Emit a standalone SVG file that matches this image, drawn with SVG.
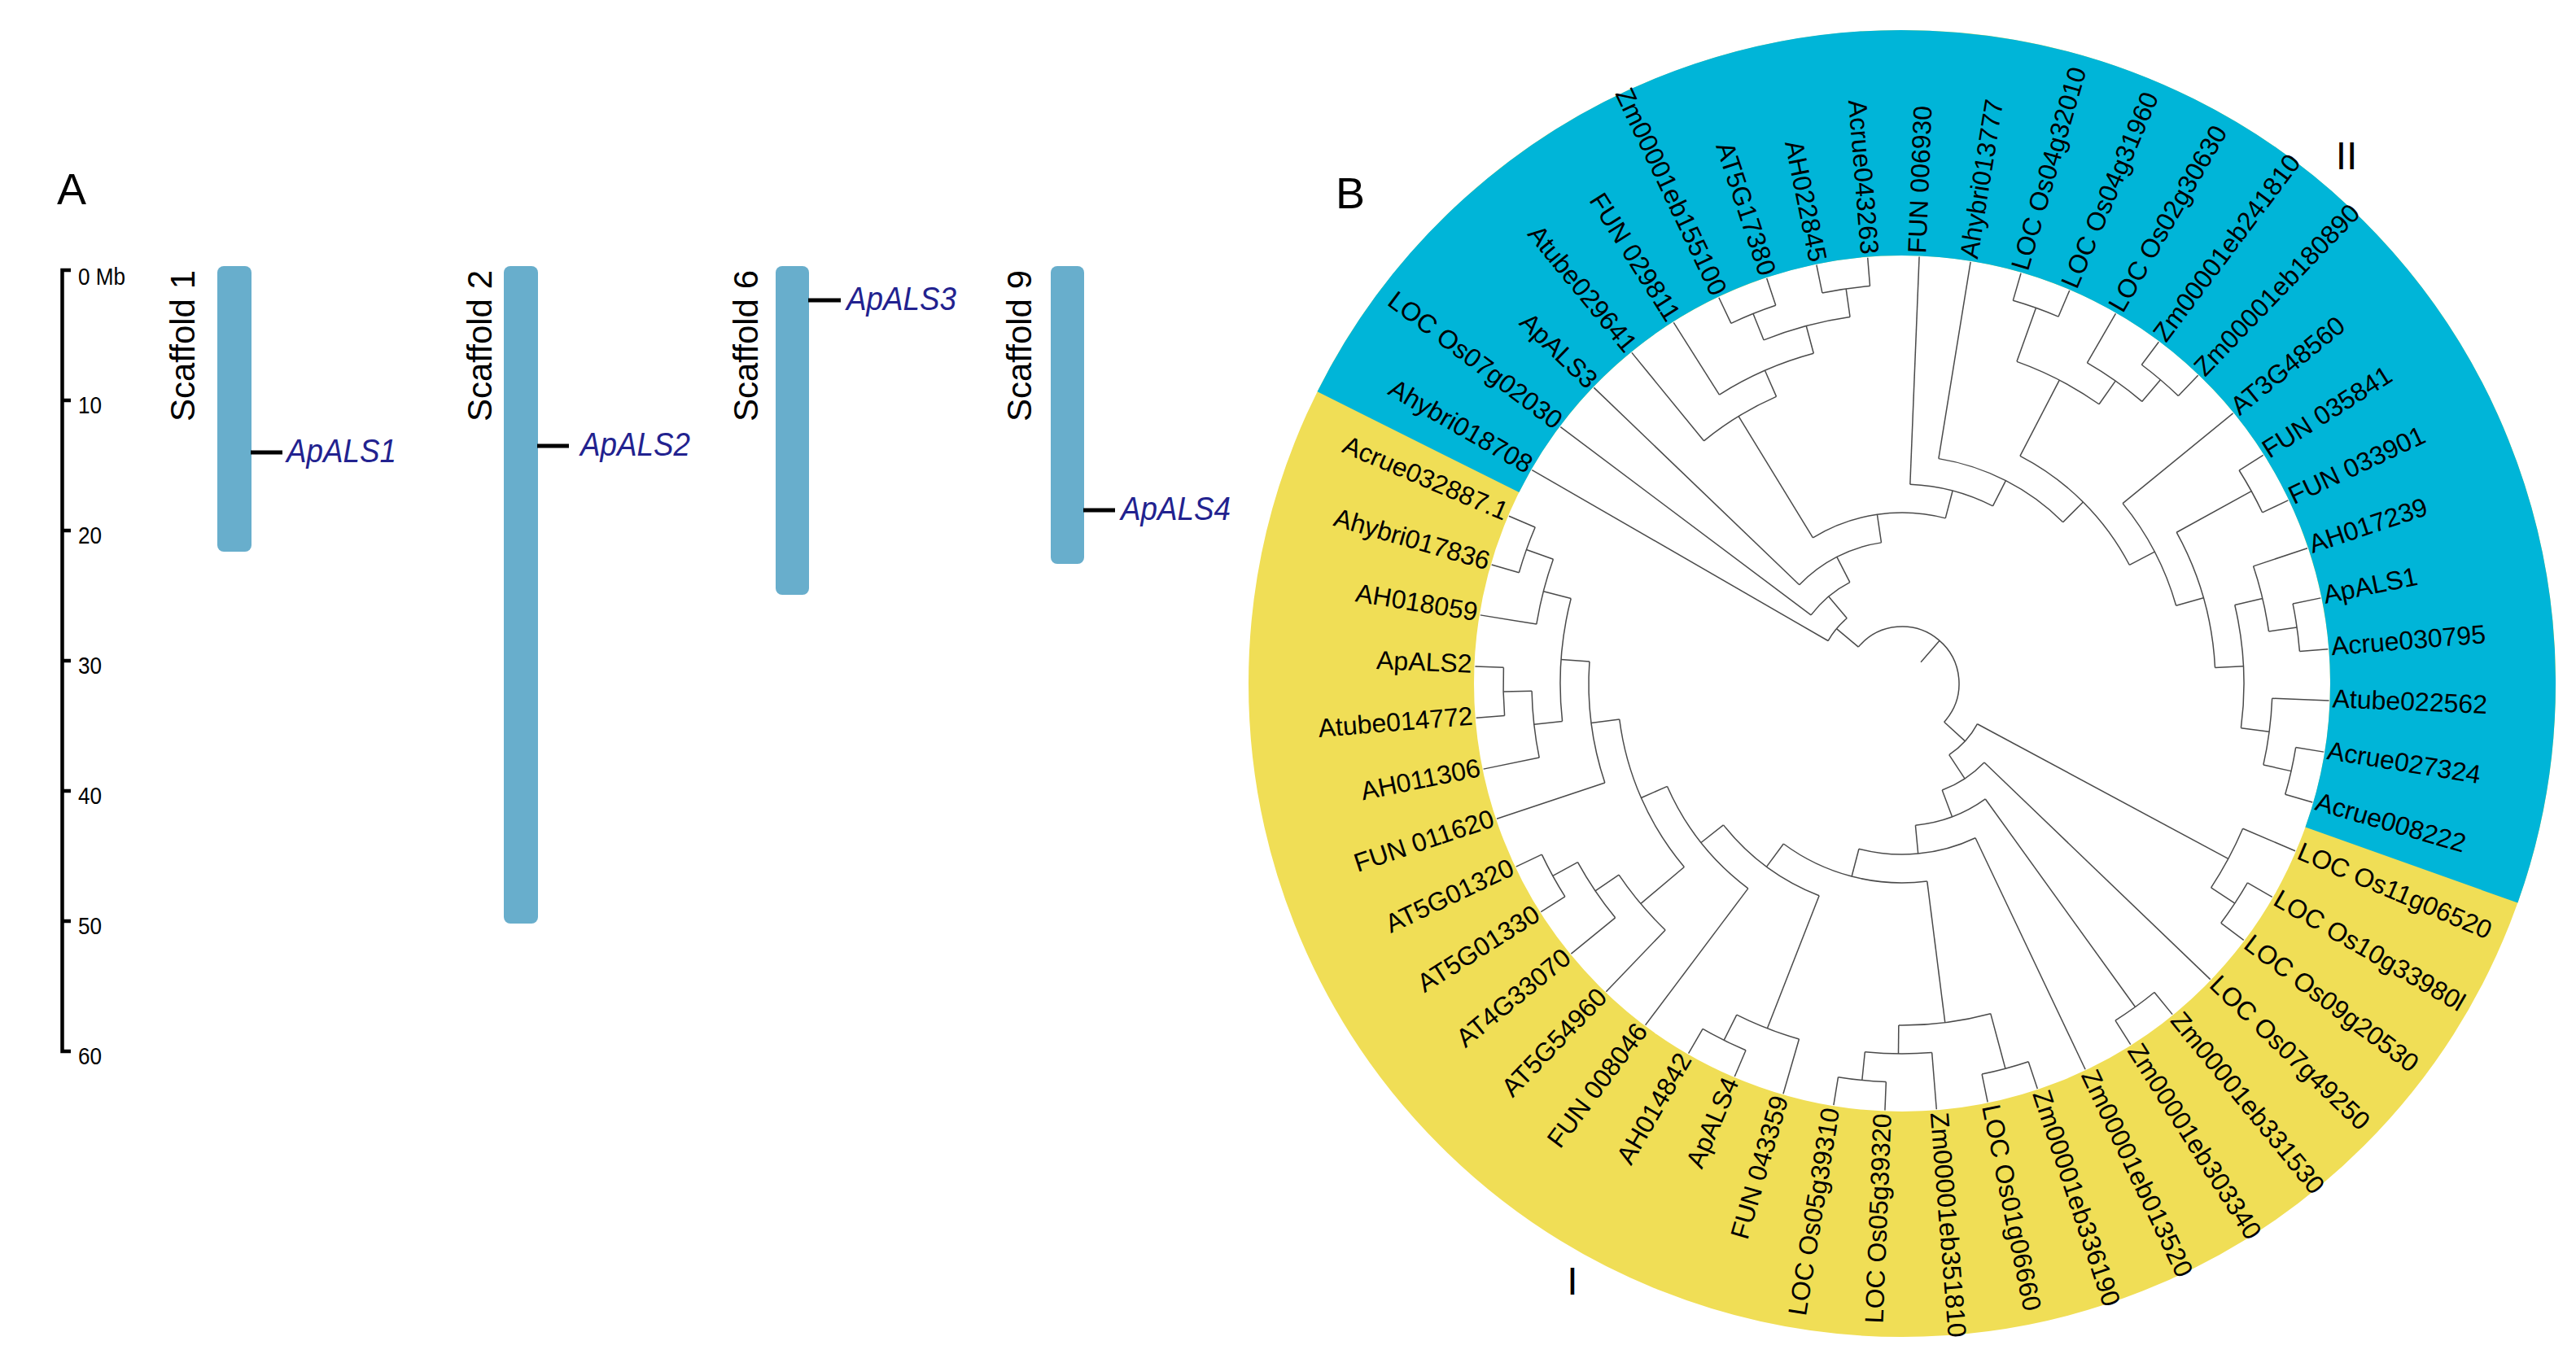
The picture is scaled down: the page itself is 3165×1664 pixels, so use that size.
<svg xmlns="http://www.w3.org/2000/svg" width="3165" height="1664" viewBox="0 0 3165 1664">
<style>
text{font-family:"Liberation Sans",Arial,sans-serif}
.panel{font-size:54px;fill:#000}
.tick{font-size:29px;fill:#000}
.scf{font-size:42px;fill:#000}
.gene{font-size:40px;font-style:italic;fill:#22228f}
.bar{fill:#68aecc}
.mk{stroke:#000;stroke-width:5}
.axis{stroke:#000;stroke-width:4.5;fill:none}
.lb{font-size:32px;fill:#000}
.e{text-anchor:end}
.br line,.br circle{fill:none;stroke:#4a4a4a;stroke-width:1.5}
.clade{font-size:48px;fill:#000}
</style>
<rect width="3165" height="1664" fill="#fff"/>

<!-- Panel A -->
<g id="panelA">
<text class="panel" x="70" y="251">A</text>
<g id="scale">
<path class="axis" d="M87,332 H76.5 V1292 H87"/>
<path class="axis" d="M76.5,492 H87 M76.5,652 H87 M76.5,812 H87 M76.5,972 H87 M76.5,1132 H87"/>
<text class="tick" transform="translate(96,350) scale(0.9,1)">0 Mb</text>
<text class="tick" transform="translate(96,508) scale(0.9,1)">10</text>
<text class="tick" transform="translate(96,668) scale(0.9,1)">20</text>
<text class="tick" transform="translate(96,828) scale(0.9,1)">30</text>
<text class="tick" transform="translate(96,988) scale(0.9,1)">40</text>
<text class="tick" transform="translate(96,1148) scale(0.9,1)">50</text>
<text class="tick" transform="translate(96,1308) scale(0.9,1)">60</text>
</g>
<g id="scaffold1">
<rect class="bar" x="267" y="327" width="42" height="351" rx="8"/>
<text class="scf e" transform="translate(239,332) rotate(-90)">Scaffold 1</text>
<line class="mk" x1="308" y1="556" x2="347" y2="556"/>
<text class="gene" transform="translate(352,568) scale(0.92,1)">ApALS1</text>
</g>
<g id="scaffold2">
<rect class="bar" x="619" y="327" width="42" height="808" rx="8"/>
<text class="scf e" transform="translate(604,332) rotate(-90)">Scaffold 2</text>
<line class="mk" x1="660" y1="548" x2="699" y2="548"/>
<text class="gene" transform="translate(713,560) scale(0.92,1)">ApALS2</text>
</g>
<g id="scaffold6">
<rect class="bar" x="953" y="327" width="41" height="404" rx="8"/>
<text class="scf e" transform="translate(931,332) rotate(-90)">Scaffold 6</text>
<line class="mk" x1="993" y1="369" x2="1033" y2="369"/>
<text class="gene" transform="translate(1040,381) scale(0.92,1)">ApALS3</text>
</g>
<g id="scaffold9">
<rect class="bar" x="1291" y="327" width="41" height="366" rx="8"/>
<text class="scf e" transform="translate(1267,332) rotate(-90)">Scaffold 9</text>
<line class="mk" x1="1331" y1="627" x2="1370" y2="627"/>
<text class="gene" transform="translate(1377,639) scale(0.92,1)">ApALS4</text>
</g>
</g>

<!-- Panel B -->
<g id="panelB">
<text class="panel" x="1641" y="256">B</text>
<g id="rings" transform="translate(2337,840)">
<circle r="664.5" fill="none" stroke="#f0de56" stroke-width="277"/>
<circle r="664.5" fill="none" stroke="#00b5d8" stroke-width="277" pathLength="360" stroke-dasharray="173.08 400" transform="rotate(-153.47)"/>
</g>
<text id="cladeI" class="clade" x="1932" y="1591" text-anchor="middle">I</text>
<text id="cladeII" class="clade" x="2883" y="208" text-anchor="middle">II</text>

<g id="branches" class="br" transform="translate(2337,840)">
<!-- arcs -->
<circle r="70" pathLength="360" stroke-dasharray="182.54 400" transform="rotate(-140.09)"/>
<circle r="105" pathLength="360" stroke-dasharray="19.83 400" transform="rotate(-150.01)"/>
<circle r="140" pathLength="360" stroke-dasharray="25.81 400" transform="rotate(-143.08)"/>
<circle r="175" pathLength="360" stroke-dasharray="37.78 400" transform="rotate(-136.16)"/>
<circle r="210" pathLength="360" stroke-dasharray="46.14 400" transform="rotate(-121.45)"/>
<circle r="385" pathLength="360" stroke-dasharray="15.58 400" transform="rotate(-129.24)"/>
<circle r="420" pathLength="360" stroke-dasharray="17.32 400" transform="rotate(-122.32)"/>
<circle r="455" pathLength="360" stroke-dasharray="13.85 400" transform="rotate(-111.93)"/>
<circle r="490" pathLength="360" stroke-dasharray="6.92 400" transform="rotate(-115.39)"/>
<circle r="490" pathLength="360" stroke-dasharray="6.92 400" transform="rotate(-101.55)"/>
<circle r="245" pathLength="360" stroke-dasharray="24.77 400" transform="rotate(-87.70)"/>
<circle r="280" pathLength="360" stroke-dasharray="35.70 400" transform="rotate(-80.78)"/>
<circle r="315" pathLength="360" stroke-dasharray="35.05 400" transform="rotate(-62.60)"/>
<circle r="420" pathLength="360" stroke-dasharray="15.58 400" transform="rotate(-70.39)"/>
<circle r="490" pathLength="360" stroke-dasharray="6.92 400" transform="rotate(-73.85)"/>
<circle r="455" pathLength="360" stroke-dasharray="10.39 400" transform="rotate(-60.01)"/>
<circle r="490" pathLength="360" stroke-dasharray="6.92 400" transform="rotate(-53.08)"/>
<circle r="350" pathLength="360" stroke-dasharray="23.37 400" transform="rotate(-39.24)"/>
<circle r="385" pathLength="360" stroke-dasharray="25.95 400" transform="rotate(-28.85)"/>
<circle r="490" pathLength="360" stroke-dasharray="6.92 400" transform="rotate(-32.32)"/>
<circle r="420" pathLength="360" stroke-dasharray="20.77 400" transform="rotate(-13.28)"/>
<circle r="455" pathLength="360" stroke-dasharray="10.38 400" transform="rotate(-18.47)"/>
<circle r="490" pathLength="360" stroke-dasharray="6.92 400" transform="rotate(-11.55)"/>
<circle r="455" pathLength="360" stroke-dasharray="10.39 400" transform="rotate(2.30)"/>
<circle r="490" pathLength="360" stroke-dasharray="6.92 400" transform="rotate(9.22)"/>
<circle r="105" pathLength="360" stroke-dasharray="28.37 400" transform="rotate(28.26)"/>
<circle r="455" pathLength="360" stroke-dasharray="10.38 400" transform="rotate(23.07)"/>
<circle r="490" pathLength="360" stroke-dasharray="6.92 400" transform="rotate(29.99)"/>
<circle r="140" pathLength="360" stroke-dasharray="25.58 400" transform="rotate(43.84)"/>
<circle r="175" pathLength="360" stroke-dasharray="30.40 400" transform="rotate(54.22)"/>
<circle r="490" pathLength="360" stroke-dasharray="6.92 400" transform="rotate(50.76)"/>
<circle r="210" pathLength="360" stroke-dasharray="40.02 400" transform="rotate(64.61)"/>
<circle r="245" pathLength="360" stroke-dasharray="43.70 400" transform="rotate(82.78)"/>
<circle r="420" pathLength="360" stroke-dasharray="15.58 400" transform="rotate(74.99)"/>
<circle r="490" pathLength="360" stroke-dasharray="6.92 400" transform="rotate(71.53)"/>
<circle r="455" pathLength="360" stroke-dasharray="10.38 400" transform="rotate(85.38)"/>
<circle r="490" pathLength="360" stroke-dasharray="6.92 400" transform="rotate(92.30)"/>
<circle r="280" pathLength="360" stroke-dasharray="30.29 400" transform="rotate(111.34)"/>
<circle r="455" pathLength="360" stroke-dasharray="10.38 400" transform="rotate(106.15)"/>
<circle r="490" pathLength="360" stroke-dasharray="6.92 400" transform="rotate(113.07)"/>
<circle r="315" pathLength="360" stroke-dasharray="29.42 400" transform="rotate(126.92)"/>
<circle r="350" pathLength="360" stroke-dasharray="32.89 400" transform="rotate(139.89)"/>
<circle r="420" pathLength="360" stroke-dasharray="12.11 400" transform="rotate(133.84)"/>
<circle r="455" pathLength="360" stroke-dasharray="10.39 400" transform="rotate(140.76)"/>
<circle r="490" pathLength="360" stroke-dasharray="6.92 400" transform="rotate(147.69)"/>
<circle r="385" pathLength="360" stroke-dasharray="22.50 400" transform="rotate(161.53)"/>
<circle r="420" pathLength="360" stroke-dasharray="20.76 400" transform="rotate(173.65)"/>
<circle r="455" pathLength="360" stroke-dasharray="10.39 400" transform="rotate(168.45)"/>
<circle r="490" pathLength="360" stroke-dasharray="6.92 400" transform="rotate(175.38)"/>
<circle r="455" pathLength="360" stroke-dasharray="10.39 400" transform="rotate(189.22)"/>
<circle r="490" pathLength="360" stroke-dasharray="6.92 400" transform="rotate(196.15)"/>
<!-- internal radials -->
<line x1="35" x2="70" transform="rotate(-48.82)"/>
<line x1="70" x2="105" transform="rotate(-140.09)"/>
<line x1="105" x2="140" transform="rotate(-130.18)"/>
<line x1="140" x2="175" transform="rotate(-117.27)"/>
<line x1="175" x2="210" transform="rotate(-98.38)"/>
<line x1="210" x2="385" transform="rotate(-121.45)"/>
<line x1="385" x2="420" transform="rotate(-113.66)"/>
<line x1="420" x2="455" transform="rotate(-105.0)"/>
<line x1="455" x2="490" transform="rotate(-111.93)"/>
<line x1="455" x2="490" transform="rotate(-98.08)"/>
<line x1="210" x2="245" transform="rotate(-75.31)"/>
<line x1="245" x2="280" transform="rotate(-62.93)"/>
<line x1="280" x2="315" transform="rotate(-45.08)"/>
<line x1="315" x2="420" transform="rotate(-62.60)"/>
<line x1="420" x2="490" transform="rotate(-70.39)"/>
<line x1="420" x2="455" transform="rotate(-54.81)"/>
<line x1="455" x2="490" transform="rotate(-49.62)"/>
<line x1="315" x2="350" transform="rotate(-27.55)"/>
<line x1="350" x2="385" transform="rotate(-15.87)"/>
<line x1="385" x2="490" transform="rotate(-28.85)"/>
<line x1="385" x2="420" transform="rotate(-2.90)"/>
<line x1="420" x2="455" transform="rotate(-13.28)"/>
<line x1="455" x2="490" transform="rotate(-8.09)"/>
<line x1="420" x2="455" transform="rotate(7.49)"/>
<line x1="455" x2="490" transform="rotate(12.69)"/>
<line x1="70" x2="105" transform="rotate(42.45)"/>
<line x1="105" x2="455" transform="rotate(28.26)"/>
<line x1="455" x2="490" transform="rotate(33.45)"/>
<line x1="105" x2="140" transform="rotate(56.63)"/>
<line x1="140" x2="175" transform="rotate(69.42)"/>
<line x1="175" x2="490" transform="rotate(54.22)"/>
<line x1="175" x2="210" transform="rotate(84.62)"/>
<line x1="210" x2="245" transform="rotate(104.63)"/>
<line x1="245" x2="420" transform="rotate(82.78)"/>
<line x1="420" x2="490" transform="rotate(74.99)"/>
<line x1="420" x2="455" transform="rotate(90.57)"/>
<line x1="455" x2="490" transform="rotate(95.76)"/>
<line x1="245" x2="280" transform="rotate(126.48)"/>
<line x1="280" x2="455" transform="rotate(111.34)"/>
<line x1="455" x2="490" transform="rotate(116.53)"/>
<line x1="280" x2="315" transform="rotate(141.63)"/>
<line x1="315" x2="350" transform="rotate(156.34)"/>
<line x1="350" x2="420" transform="rotate(139.89)"/>
<line x1="420" x2="455" transform="rotate(145.95)"/>
<line x1="455" x2="490" transform="rotate(151.15)"/>
<line x1="350" x2="385" transform="rotate(172.78)"/>
<line x1="385" x2="420" transform="rotate(184.03)"/>
<line x1="420" x2="455" transform="rotate(173.65)"/>
<line x1="455" x2="490" transform="rotate(178.84)"/>
<line x1="420" x2="455" transform="rotate(194.41)"/>
<line x1="455" x2="490" transform="rotate(199.61)"/>
<!-- leaf radials -->
<line x1="105" x2="525" transform="rotate(-150.01)"/>
<line x1="140" x2="525" transform="rotate(-143.08)"/>
<line x1="175" x2="525" transform="rotate(-136.16)"/>
<line x1="385" x2="525" transform="rotate(-129.24)"/>
<line x1="420" x2="525" transform="rotate(-122.32)"/>
<line x1="490" x2="525" transform="rotate(-115.39)"/>
<line x1="490" x2="525" transform="rotate(-108.47)"/>
<line x1="490" x2="525" transform="rotate(-101.55)"/>
<line x1="490" x2="525" transform="rotate(-94.62)"/>
<line x1="245" x2="525" transform="rotate(-87.70)"/>
<line x1="280" x2="525" transform="rotate(-80.78)"/>
<line x1="490" x2="525" transform="rotate(-73.85)"/>
<line x1="490" x2="525" transform="rotate(-66.93)"/>
<line x1="455" x2="525" transform="rotate(-60.01)"/>
<line x1="490" x2="525" transform="rotate(-53.08)"/>
<line x1="490" x2="525" transform="rotate(-46.16)"/>
<line x1="350" x2="525" transform="rotate(-39.24)"/>
<line x1="490" x2="525" transform="rotate(-32.32)"/>
<line x1="490" x2="525" transform="rotate(-25.39)"/>
<line x1="455" x2="525" transform="rotate(-18.47)"/>
<line x1="490" x2="525" transform="rotate(-11.55)"/>
<line x1="490" x2="525" transform="rotate(-4.62)"/>
<line x1="455" x2="525" transform="rotate(2.30)"/>
<line x1="490" x2="525" transform="rotate(9.22)"/>
<line x1="490" x2="525" transform="rotate(16.15)"/>
<line x1="455" x2="525" transform="rotate(23.07)"/>
<line x1="490" x2="525" transform="rotate(29.99)"/>
<line x1="490" x2="525" transform="rotate(36.92)"/>
<line x1="140" x2="525" transform="rotate(43.84)"/>
<line x1="490" x2="525" transform="rotate(50.76)"/>
<line x1="490" x2="525" transform="rotate(57.68)"/>
<line x1="210" x2="525" transform="rotate(64.61)"/>
<line x1="490" x2="525" transform="rotate(71.53)"/>
<line x1="490" x2="525" transform="rotate(78.45)"/>
<line x1="455" x2="525" transform="rotate(85.38)"/>
<line x1="490" x2="525" transform="rotate(92.30)"/>
<line x1="490" x2="525" transform="rotate(99.22)"/>
<line x1="455" x2="525" transform="rotate(106.15)"/>
<line x1="490" x2="525" transform="rotate(113.07)"/>
<line x1="490" x2="525" transform="rotate(119.99)"/>
<line x1="315" x2="525" transform="rotate(126.92)"/>
<line x1="420" x2="525" transform="rotate(133.84)"/>
<line x1="455" x2="525" transform="rotate(140.76)"/>
<line x1="490" x2="525" transform="rotate(147.69)"/>
<line x1="490" x2="525" transform="rotate(154.61)"/>
<line x1="385" x2="525" transform="rotate(161.53)"/>
<line x1="455" x2="525" transform="rotate(168.45)"/>
<line x1="490" x2="525" transform="rotate(175.38)"/>
<line x1="490" x2="525" transform="rotate(182.30)"/>
<line x1="455" x2="525" transform="rotate(189.22)"/>
<line x1="490" x2="525" transform="rotate(196.15)"/>
<line x1="490" x2="525" transform="rotate(203.07)"/>
</g>

<g id="leaves" class="lb" transform="translate(2337,840)">
<g id="leaf01"><text class="e" x="-529" dy="0.25em" transform="rotate(29.99)">Ahybri018708</text></g>
<g id="leaf02"><text class="e" x="-529" dy="0.25em" transform="rotate(36.92)">LOC Os07g02030</text></g>
<g id="leaf03"><text class="e" x="-529" dy="0.25em" transform="rotate(43.84)">ApALS3</text></g>
<g id="leaf04"><text class="e" x="-529" dy="0.25em" transform="rotate(50.76)">Atube029641</text></g>
<g id="leaf05"><text class="e" x="-529" dy="0.25em" transform="rotate(57.68)">FUN 029811</text></g>
<g id="leaf06"><text class="e" x="-529" dy="0.25em" transform="rotate(64.61)">Zm00001eb155100</text></g>
<g id="leaf07"><text class="e" x="-529" dy="0.25em" transform="rotate(71.53)">AT5G17380</text></g>
<g id="leaf08"><text class="e" x="-529" dy="0.25em" transform="rotate(78.45)">AH022845</text></g>
<g id="leaf09"><text class="e" x="-529" dy="0.25em" transform="rotate(85.38)">Acrue043263</text></g>
<g id="leaf10"><text x="529" dy="0.25em" transform="rotate(-87.70)">FUN 006930</text></g>
<g id="leaf11"><text x="529" dy="0.25em" transform="rotate(-80.78)">Ahybri013777</text></g>
<g id="leaf12"><text x="529" dy="0.25em" transform="rotate(-73.85)">LOC Os04g32010</text></g>
<g id="leaf13"><text x="529" dy="0.25em" transform="rotate(-66.93)">LOC Os04g31960</text></g>
<g id="leaf14"><text x="529" dy="0.25em" transform="rotate(-60.01)">LOC Os02g30630</text></g>
<g id="leaf15"><text x="529" dy="0.25em" transform="rotate(-53.08)">Zm00001eb241810</text></g>
<g id="leaf16"><text x="529" dy="0.25em" transform="rotate(-46.16)">Zm00001eb180890</text></g>
<g id="leaf17"><text x="529" dy="0.25em" transform="rotate(-39.24)">AT3G48560</text></g>
<g id="leaf18"><text x="529" dy="0.25em" transform="rotate(-32.32)">FUN 035841</text></g>
<g id="leaf19"><text x="529" dy="0.25em" transform="rotate(-25.39)">FUN 033901</text></g>
<g id="leaf20"><text x="529" dy="0.25em" transform="rotate(-18.47)">AH017239</text></g>
<g id="leaf21"><text x="529" dy="0.25em" transform="rotate(-11.55)">ApALS1</text></g>
<g id="leaf22"><text x="529" dy="0.25em" transform="rotate(-4.62)">Acrue030795</text></g>
<g id="leaf23"><text x="529" dy="0.25em" transform="rotate(2.30)">Atube022562</text></g>
<g id="leaf24"><text x="529" dy="0.25em" transform="rotate(9.22)">Acrue027324</text></g>
<g id="leaf25"><text x="529" dy="0.25em" transform="rotate(16.15)">Acrue008222</text></g>
<g id="leaf26"><text x="529" dy="0.25em" transform="rotate(23.07)">LOC Os11g06520</text></g>
<g id="leaf27"><text x="529" dy="0.25em" transform="rotate(29.99)">LOC Os10g33980l</text></g>
<g id="leaf28"><text x="529" dy="0.25em" transform="rotate(36.92)">LOC Os09g20530</text></g>
<g id="leaf29"><text x="529" dy="0.25em" transform="rotate(43.84)">LOC Os07g49250</text></g>
<g id="leaf30"><text x="529" dy="0.25em" transform="rotate(50.76)">Zm00001eb331530</text></g>
<g id="leaf31"><text x="529" dy="0.25em" transform="rotate(57.68)">Zm00001eb303340</text></g>
<g id="leaf32"><text x="529" dy="0.25em" transform="rotate(64.61)">Zm00001eb013520</text></g>
<g id="leaf33"><text x="529" dy="0.25em" transform="rotate(71.53)">Zm00001eb336190</text></g>
<g id="leaf34"><text x="529" dy="0.25em" transform="rotate(78.45)">LOC Os01g06660</text></g>
<g id="leaf35"><text x="529" dy="0.25em" transform="rotate(85.38)">Zm00001eb351810</text></g>
<g id="leaf36"><text class="e" x="-529" dy="0.25em" transform="rotate(-87.70)">LOC Os05g39320</text></g>
<g id="leaf37"><text class="e" x="-529" dy="0.25em" transform="rotate(-80.78)">LOC Os05g39310</text></g>
<g id="leaf38"><text class="e" x="-529" dy="0.25em" transform="rotate(-73.85)">FUN 043359</text></g>
<g id="leaf39"><text class="e" x="-529" dy="0.25em" transform="rotate(-66.93)">ApALS4</text></g>
<g id="leaf40"><text class="e" x="-529" dy="0.25em" transform="rotate(-60.01)">AH014842</text></g>
<g id="leaf41"><text class="e" x="-529" dy="0.25em" transform="rotate(-53.08)">FUN 008046</text></g>
<g id="leaf42"><text class="e" x="-529" dy="0.25em" transform="rotate(-46.16)">AT5G54960</text></g>
<g id="leaf43"><text class="e" x="-529" dy="0.25em" transform="rotate(-39.24)">AT4G33070</text></g>
<g id="leaf44"><text class="e" x="-529" dy="0.25em" transform="rotate(-32.31)">AT5G01330</text></g>
<g id="leaf45"><text class="e" x="-529" dy="0.25em" transform="rotate(-25.39)">AT5G01320</text></g>
<g id="leaf46"><text class="e" x="-529" dy="0.25em" transform="rotate(-18.47)">FUN 011620</text></g>
<g id="leaf47"><text class="e" x="-529" dy="0.25em" transform="rotate(-11.55)">AH011306</text></g>
<g id="leaf48"><text class="e" x="-529" dy="0.25em" transform="rotate(-4.62)">Atube014772</text></g>
<g id="leaf49"><text class="e" x="-529" dy="0.25em" transform="rotate(2.30)">ApALS2</text></g>
<g id="leaf50"><text class="e" x="-529" dy="0.25em" transform="rotate(9.22)">AH018059</text></g>
<g id="leaf51"><text class="e" x="-529" dy="0.25em" transform="rotate(16.15)">Ahybri017836</text></g>
<g id="leaf52"><text class="e" x="-529" dy="0.25em" transform="rotate(23.07)">Acrue032887.1</text></g>
</g>
</g>
</svg>
